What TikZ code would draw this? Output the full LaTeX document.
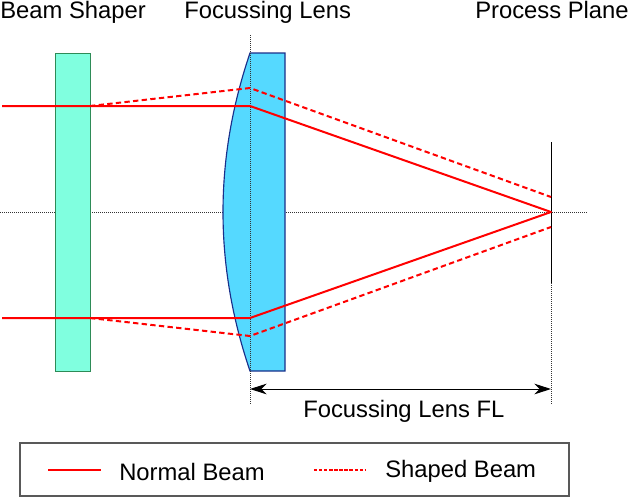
\documentclass[tikz,border=0pt]{standalone}
\usepackage{fontspec}
\setmainfont{Liberation Sans}
\usetikzlibrary{arrows.meta}
\definecolor{shaperfill}{HTML}{80FFDF}
\definecolor{shaperline}{HTML}{2E8B57}
\definecolor{lensfill}{HTML}{55D9FF}
\definecolor{lensline}{HTML}{1A2F8A}
\tikzset{
    label/.style={inner sep=0pt, anchor=base west, font=\fontsize{17.85pt}{20pt}\selectfont},
    normalbeam/.style={red, line width=1.5pt, line join=round},
    shapedbeam/.style={red, line width=1.5pt, line join=round, dash pattern=on 4pt off 2.5pt},
    axisline/.style={black!80, line width=0.6pt, dash pattern=on 0.75pt off 0.75pt},
}

\begin{document}
\begin{tikzpicture}[x=0.75pt, y=-0.75pt]
    \useasboundingbox (0,0) rectangle (629,497);

    % optical axis
    \coordinate (axisL) at (0,212);
    \coordinate (axisR) at (587,212);
    \draw[axisline] (axisL) -- (axisR);

    % beam shaper and lens
    \draw[fill=shaperfill, draw=shaperline, line width=0.75pt] (55,53) rectangle (90,371);
    \draw[fill=lensfill, draw=lensline, line width=0.85pt] (250,53) .. controls (214,159) and (214,265) .. (250,371) -- (285,371) -- (285,53) -- cycle;

    % verticals
    \coordinate (lensT) at (250,35);
    \coordinate (lensB) at (250,405);
    \coordinate (planeT) at (551,142);
    \coordinate (planeM) at (551,283);
    \coordinate (planeB) at (551,405);
    \draw[axisline] (lensT) -- (lensB);
    \draw[axisline] (planeM) -- (planeB);
    \draw[black, line width=0.7pt] (planeT) -- (planeM);

    % beams
    \coordinate (focus) at (551,212);
    \coordinate (inT) at (2,106);
    \coordinate (inB) at (2,318);
    \coordinate (bendT) at (250,106);
    \coordinate (bendB) at (250,318);
    \coordinate (shapeT) at (90,106);
    \coordinate (shapeB) at (90,318);
    \coordinate (kinkT) at (250,88);
    \coordinate (kinkB) at (250,336);
    \coordinate (endT) at (551,197);
    \coordinate (endB) at (551,227);
    \draw[normalbeam] (inT) -- (bendT) -- (focus) -- (bendB) -- (inB);
    \draw[shapedbeam] (shapeT) -- (kinkT) -- (endT);
    \draw[shapedbeam] (shapeB) -- (kinkB) -- (endB);

    % focal length
    \coordinate (flL) at (250,389);
    \coordinate (flR) at (551,389);
    \draw[{Stealth[length=12.5pt,width=8pt,inset=4pt]}-{Stealth[length=12.5pt,width=8pt,inset=4pt]}, line width=0.75pt] (flL) -- (flR);

    % labels
    \node[label] (shaper) at (0,18) {Beam Shaper};
    \node[label] (lens) at (184,18) {Focussing Lens};
    \node[label] (plane) at (475,18) {Process Plane};
    \node[label] (fl) at (303,417) {Focussing Lens FL};

    % legend
    \draw[draw=black!65, line width=0.9pt] (20,443) rectangle (569,496);
    \coordinate (normalA) at (48,470);
    \coordinate (normalB) at (101,470);
    \coordinate (shapedA) at (314,470);
    \coordinate (shapedB) at (366,470);
    \draw[red, line width=1pt] (normalA) -- (normalB);
    \draw[red, line width=1pt, dash pattern=on 2.5pt off 1.3pt] (shapedA) -- (shapedB);
    \node[label] (normal) at (119,480) {Normal Beam};
    \node[label] (shaped) at (385,477) {Shaped Beam};
\end{tikzpicture}
\end{document}
